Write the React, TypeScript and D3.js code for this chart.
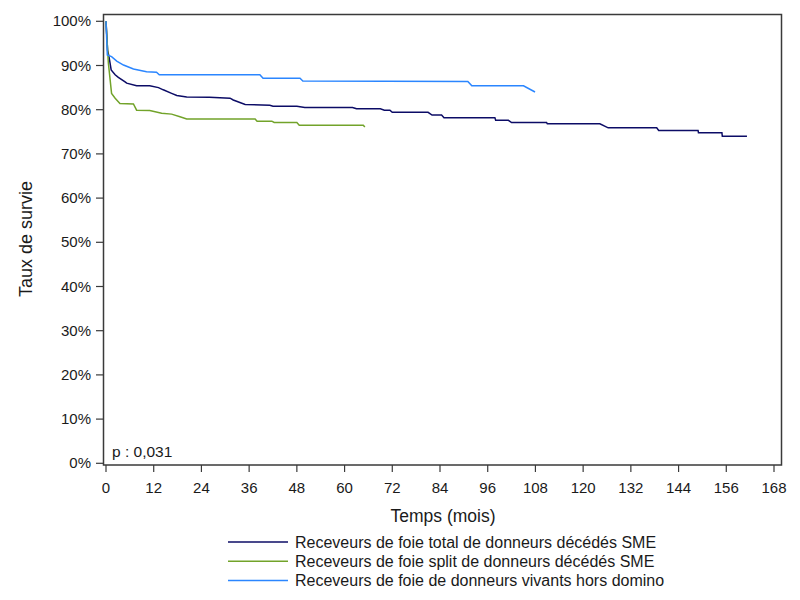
import * as d3 from 'd3'

const FONT = '"Liberation Sans", Arial, sans-serif'
const TEXT = '#1a1a1a'

const xTicks = [0, 12, 24, 36, 48, 60, 72, 84, 96, 108, 120, 132, 144, 156, 168]
const yTicks = [0, 0.1, 0.2, 0.3, 0.4, 0.5, 0.6, 0.7, 0.8, 0.9, 1]

const seriesNames = [
  'Receveurs de foie total de donneurs décédés SME',
  'Receveurs de foie split de donneurs décédés SME',
  'Receveurs de foie de donneurs vivants hors domino',
]
const seriesColors = ['#0c0c66', '#72a32a', '#2b86ff']

// months / survival
const totalMonths = [0, 0.4, 0.75, 1.3, 2.3, 3.1, 4.8, 5.2, 7.7, 11, 13.2, 14.4, 16.5, 17.8, 20.3, 26, 31.2, 32, 35, 41.2, 42, 48, 50, 62, 63, 69, 70, 71.4, 72, 81, 82, 84.4, 85, 97.8, 98, 101.2, 102, 110.8, 111, 124.2, 126.3, 138.5, 139, 148.9, 149, 154.9, 155, 161.2]
const totalSurv = [1, 0.935, 0.92, 0.89, 0.879, 0.873, 0.863, 0.86, 0.854, 0.854, 0.85, 0.845, 0.837, 0.832, 0.829, 0.828, 0.826, 0.822, 0.812, 0.81, 0.808, 0.808, 0.805, 0.805, 0.802, 0.802, 0.799, 0.799, 0.794, 0.794, 0.788, 0.788, 0.782, 0.782, 0.776, 0.776, 0.771, 0.771, 0.768, 0.768, 0.759, 0.759, 0.753, 0.753, 0.748, 0.748, 0.74, 0.74]

const splitMonths = [0, 0.3, 0.6, 1.4, 2.3, 3.5, 6.9, 7.7, 11, 14, 16.5, 18.6, 20.3, 21, 37.5, 38, 41.7, 42.3, 48, 48.6, 64.7, 65.1]
const splitSurv = [1, 0.951, 0.905, 0.837, 0.826, 0.814, 0.813, 0.799, 0.798, 0.792, 0.79, 0.784, 0.779, 0.779, 0.779, 0.774, 0.774, 0.771, 0.771, 0.765, 0.765, 0.761]

const livingMonths = [0, 0.33, 1.4, 2.7, 4.4, 6.9, 10.2, 12.7, 13.4, 38.7, 39.5, 48.8, 49.5, 91, 92, 105, 107.9]
const livingSurv = [1, 0.924, 0.92, 0.91, 0.901, 0.892, 0.886, 0.885, 0.879, 0.879, 0.871, 0.871, 0.865, 0.864, 0.854, 0.854, 0.84]

const seriesMonths = [totalMonths, splitMonths, livingMonths]
const seriesSurv = [totalSurv, splitSurv, livingSurv]

const FRAME = { left: 103.5, top: 14.5, right: 781.5, bottom: 465 }

export default function App() {
  const x = d3.scaleLinear().domain([0, 168]).range([106, 774])
  const y = d3.scaleLinear().domain([0, 1]).range([463.3, 21.3])
  const fmtPct = d3.format('.0%')

  const line = d3
    .line<[number, number]>()
    .x((d) => x(d[0]))
    .y((d) => y(d[1]))
    .curve(d3.curveLinear)

  return (
    <svg width={800} height={600} style={{ position: 'absolute', left: 0, top: 0, background: '#fff' }} fontFamily={FONT}>
      <rect x={0} y={0} width={800} height={600} fill="#fff" />
      {/* curves */}
      {seriesMonths.map((ms, i) => (
        <path
          key={i}
          d={line(ms.map((m, j) => [m, seriesSurv[i][j]] as [number, number])) ?? ''}
          fill="none"
          stroke={seriesColors[i]}
          strokeWidth={1.5}
        />
      ))}
      {/* frame */}
      <rect
        x={FRAME.left}
        y={FRAME.top}
        width={FRAME.right - FRAME.left}
        height={FRAME.bottom - FRAME.top}
        fill="none"
        stroke="#3a3a3a"
        strokeWidth={1.5}
      />
      {/* y axis */}
      {yTicks.map((t) => (
        <g key={t}>
          <line x1={96} x2={FRAME.left} y1={y(t)} y2={y(t)} stroke="#3a3a3a" strokeWidth={1.2} />
          <text x={91} y={y(t) + 5} textAnchor="end" fontSize={15} fill={TEXT}>
            {fmtPct(t)}
          </text>
        </g>
      ))}
      {/* x axis */}
      {xTicks.map((t) => (
        <g key={t}>
          <line x1={x(t)} x2={x(t)} y1={FRAME.bottom} y2={FRAME.bottom + 7} stroke="#3a3a3a" strokeWidth={1.2} />
          <text x={x(t)} y={493} textAnchor="middle" fontSize={15} fill={TEXT}>
            {t}
          </text>
        </g>
      ))}
      <text x={443} y={522} textAnchor="middle" fontSize={17.5} fill={TEXT}>
        Temps (mois)
      </text>
      <text transform="translate(32,239) rotate(-90)" textAnchor="middle" fontSize={18} fill={TEXT}>
        Taux de survie
      </text>
      <text x={112} y={457} fontSize={15.5} fill={TEXT}>
        p : 0,031
      </text>
      {/* legend */}
      {seriesNames.map((n, i) => (
        <g key={n} transform={`translate(0,${542 + i * 19.2})`}>
          <line x1={228} x2={288} y1={0} y2={0} stroke={seriesColors[i]} strokeWidth={1.5} />
          <text x={295} y={6} fontSize={16} fill={TEXT}>
            {n}
          </text>
        </g>
      ))}
    </svg>
  )
}
